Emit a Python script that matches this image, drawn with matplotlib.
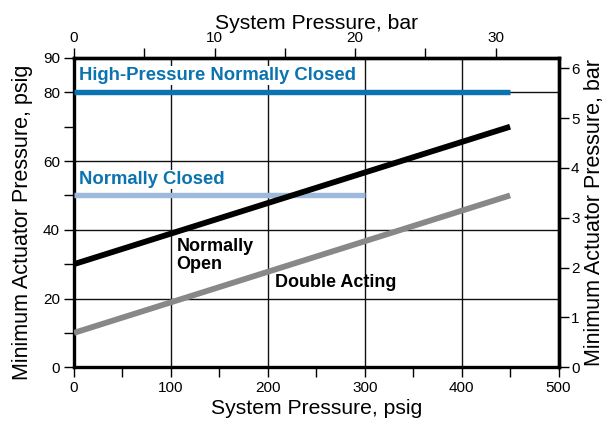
import matplotlib.pyplot as plt
import numpy as np

plt.rcParams['font.family'] = ['Liberation Sans', 'DejaVu Sans']

PSI_PER_BAR = 14.5038

# curves: system pressure (psig) -> minimum actuator pressure (psig)
hp_nc_x = [0, 450]
hp_nc_y = [80, 80]
nc_x = [0, 300]
nc_y = [50, 50]
no_x = [0, 450]
no_y = [30, 70]
da_x = [0, 450]
da_y = [10, 50]

x_ticks = [0, 100, 200, 300, 400, 500]
y_ticks = [0, 20, 40, 60, 80, 90]
bar_x_ticks = [0, 10, 20, 30]
bar_y_ticks = [0, 1, 2, 3, 4, 5, 6]

fig = plt.figure(figsize=(6.08, 4.28), dpi=100)
ax = fig.add_axes([0.1217, 0.142, 0.797, 0.7225])

# grid
for gx in [100, 200, 300, 400]:
    ax.axvline(gx, color='#111111', lw=1.0, zorder=1)
for gy in [20, 40, 60, 80]:
    ax.axhline(gy, color='#111111', lw=1.0, zorder=1)

ax.plot(hp_nc_x, hp_nc_y, color='#0b74b0', lw=3.9, solid_capstyle='butt', zorder=3)
ax.plot(nc_x, nc_y, color='#9fb9dd', lw=3.9, solid_capstyle='butt', zorder=3)
ax.plot(no_x, no_y, color='black', lw=4.2, solid_capstyle='butt', zorder=3)
ax.plot(da_x, da_y, color='#888888', lw=4.2, solid_capstyle='butt', zorder=3)

box = dict(facecolor='white', edgecolor='none', pad=0.6)
ax.text(5, 83.6, 'High-Pressure Normally Closed', color='#0b74b0',
        fontsize=13.3, fontweight='bold', va='baseline', bbox=box, zorder=2)
ax.text(5, 53.3, 'Normally Closed', color='#0b74b0',
        fontsize=13.3, fontweight='bold', va='baseline', bbox=box, zorder=2)
ax.text(106, 33.8, 'Normally', fontsize=13, fontweight='bold', va='baseline', zorder=2)
ax.text(106, 28.5, 'Open', fontsize=13, fontweight='bold', va='baseline', zorder=2)
ax.text(207, 23.3, 'Double Acting', fontsize=13, fontweight='bold', va='baseline', zorder=2)

ax.set_xlim(0, 500)
ax.set_ylim(0, 90)
ax.set_xticks(x_ticks)
ax.set_xticks([50, 150, 250, 350, 450], minor=True)
ax.set_yticks(y_ticks)
ax.set_yticks([10, 30, 50, 70], minor=True)
ax.tick_params(which='both', direction='out', length=7, width=1, labelsize=11,
               color='black', pad=3)
for s in ax.spines.values():
    s.set_linewidth(2.4)

ax.set_xlabel('System Pressure, psig', fontsize=15.2, labelpad=3)
ax.set_ylabel('Minimum Actuator Pressure, psig', fontsize=15.5, labelpad=5)
ax.yaxis.set_label_coords(-0.085, 0.47)

top = ax.secondary_xaxis('top', functions=(lambda p: p / PSI_PER_BAR, lambda b: b * PSI_PER_BAR))
top.set_xticks(bar_x_ticks)
top.set_xticks([5, 15, 25], minor=True)
top.tick_params(which='both', direction='out', length=7, width=1, labelsize=11, pad=2)
top.set_xlabel('System Pressure, bar', fontsize=15.2, labelpad=2)
top.spines['top'].set_linewidth(2.4)

right = ax.secondary_yaxis('right', functions=(lambda p: p / PSI_PER_BAR, lambda b: b * PSI_PER_BAR))
right.set_yticks(bar_y_ticks)
right.tick_params(which='both', direction='out', length=7, width=1, labelsize=11, pad=2)
right.set_ylabel('Minimum Actuator Pressure, bar', fontsize=15.5, labelpad=3)
right.spines['right'].set_linewidth(2.4)

fig.savefig('out.png', dpi=100)
